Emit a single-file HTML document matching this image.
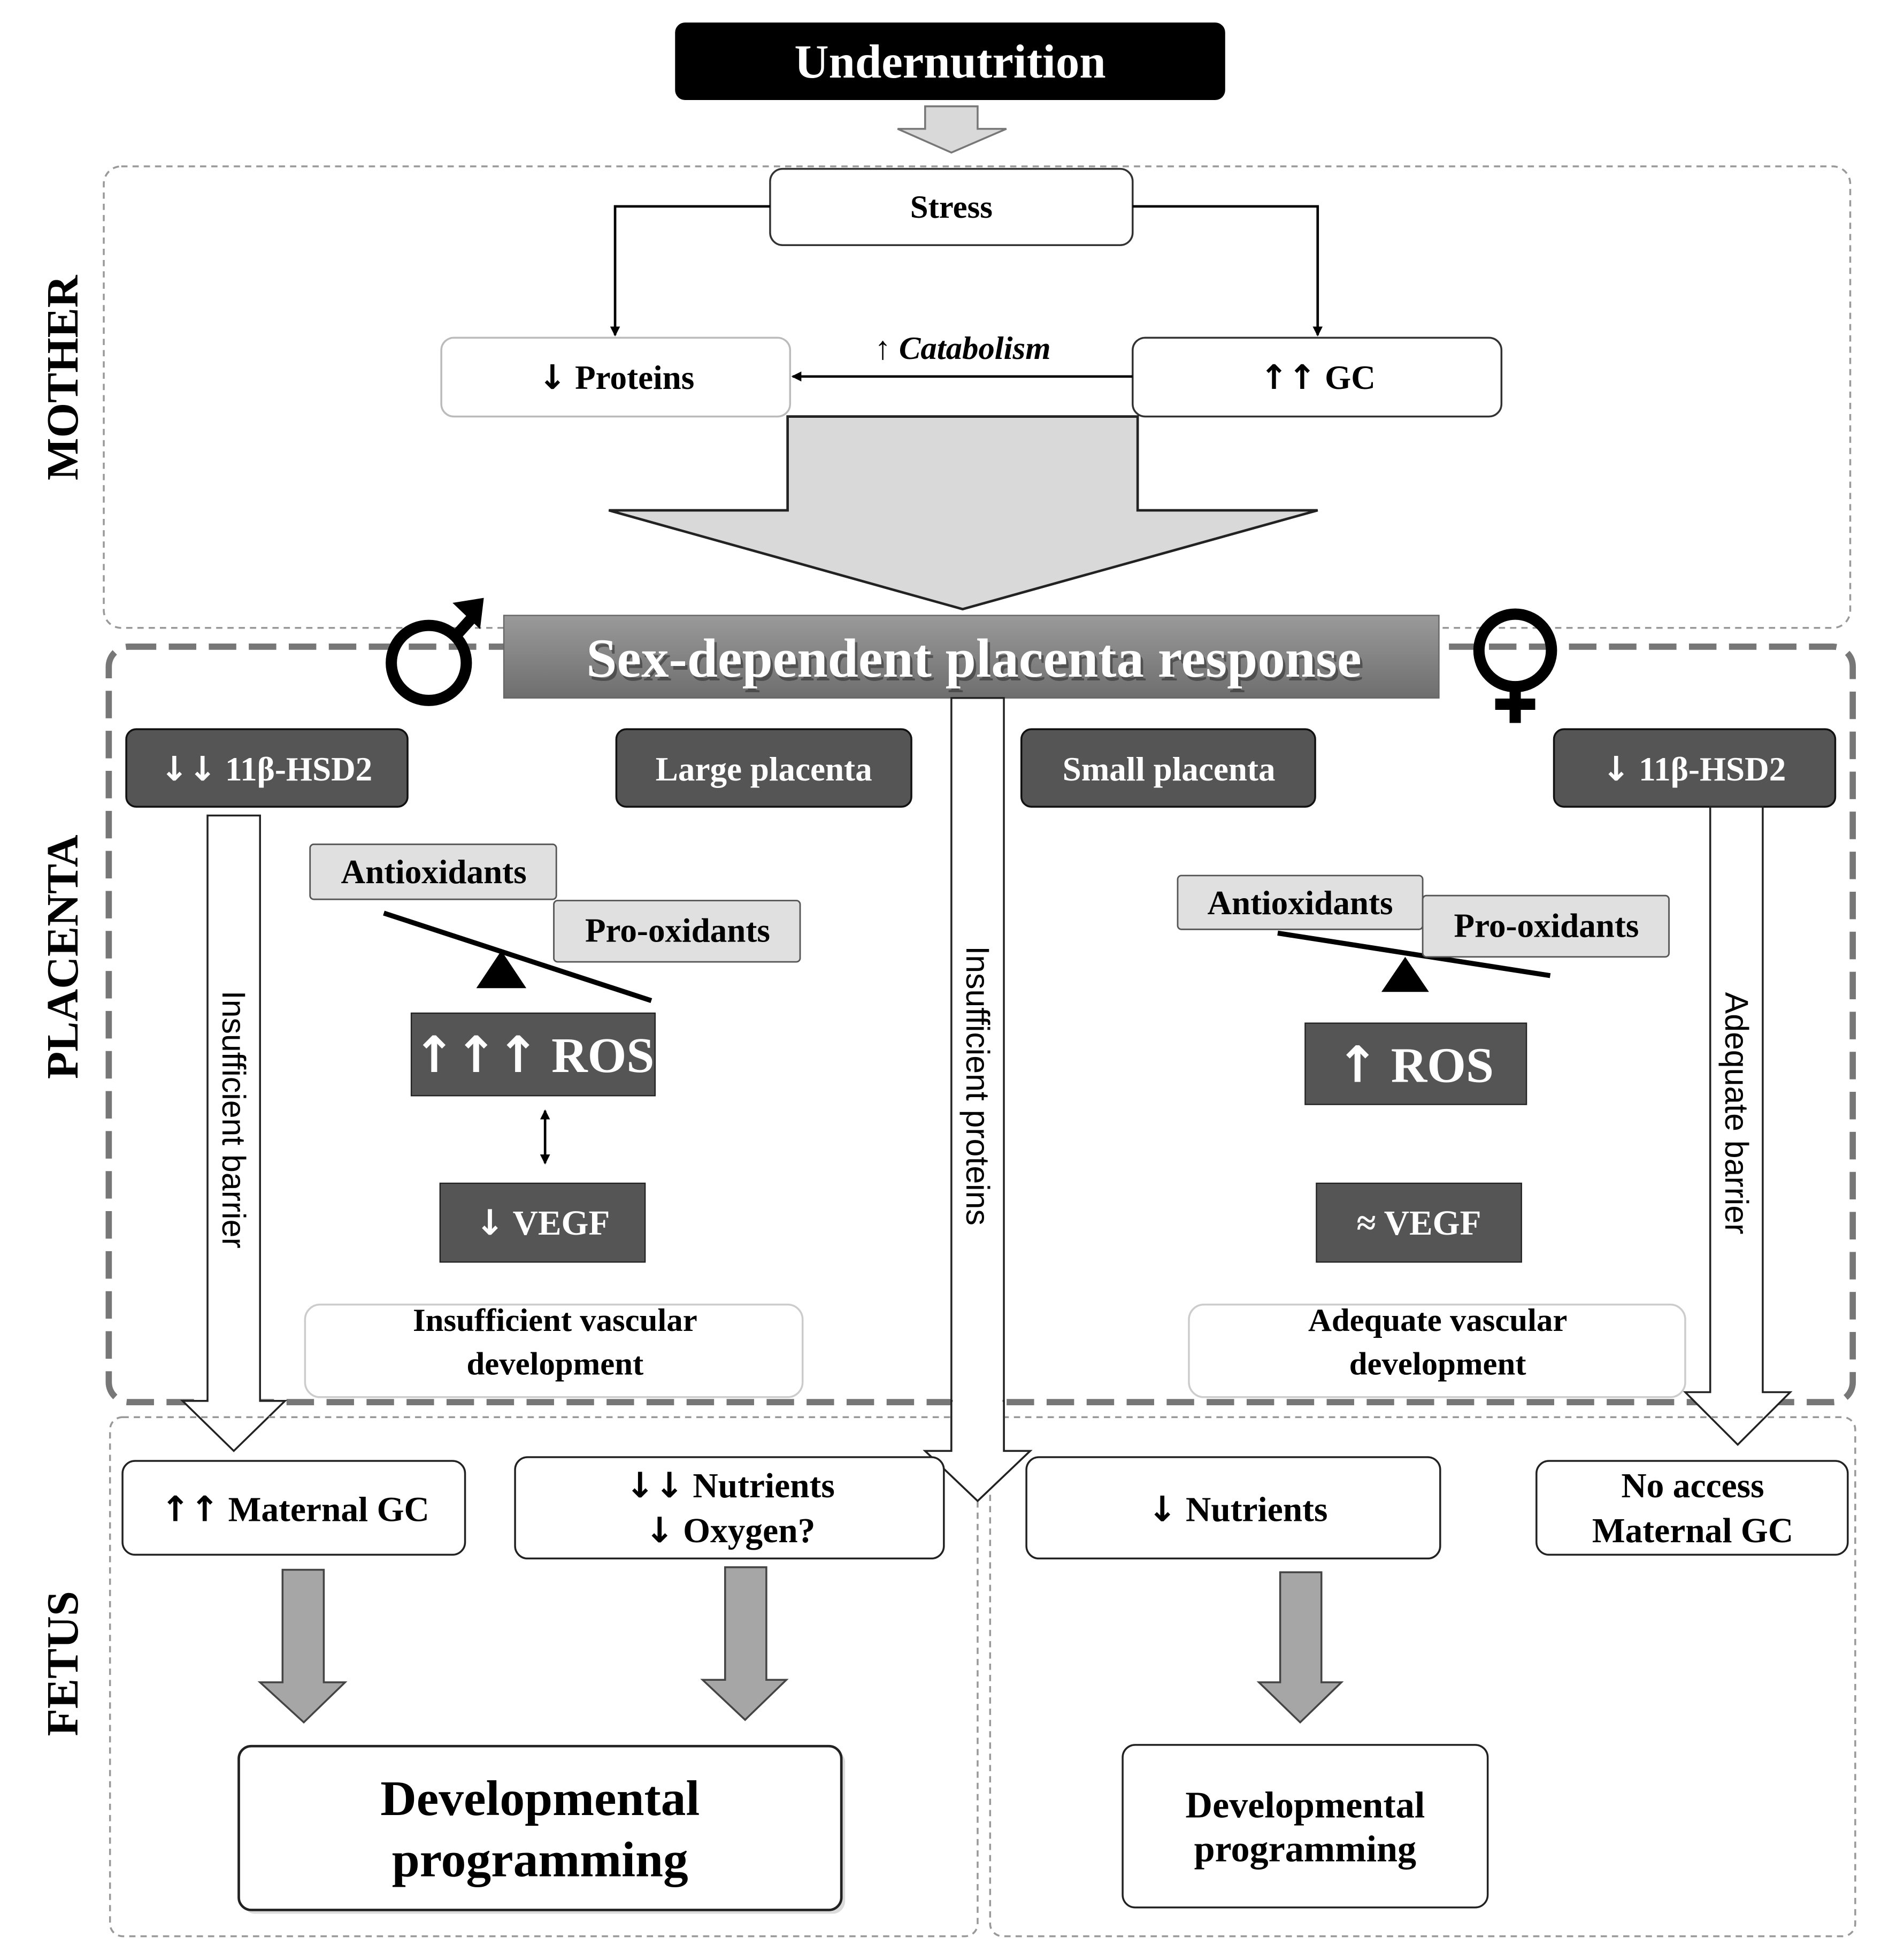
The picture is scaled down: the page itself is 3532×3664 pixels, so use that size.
<!DOCTYPE html>
<html><head><meta charset="utf-8"><style>
html,body{margin:0;padding:0;background:#fff;}
svg{display:block;}
text{font-family:"Liberation Serif",serif;font-weight:bold;}
.sans{font-family:"Liberation Sans",sans-serif;font-weight:normal;}
.ar{font-family:"DejaVu Sans",sans-serif;font-weight:bold;}
</style></head><body>
<svg width="3532" height="3664" viewBox="0 0 1511 1567" preserveAspectRatio="none" xmlns="http://www.w3.org/2000/svg">
<defs>
<marker id="ah" markerWidth="8" markerHeight="8" refX="7" refY="4" orient="auto" markerUnits="userSpaceOnUse"><path d="M0,0 L8,4 L0,8 z" fill="#000"/></marker>
<marker id="ah2" markerWidth="8" markerHeight="8" refX="7" refY="4" orient="auto-start-reverse" markerUnits="userSpaceOnUse"><path d="M0,0 L8,4 L0,8 z" fill="#000"/></marker>
<linearGradient id="tg" x1="0" y1="0" x2="0" y2="1"><stop offset="0" stop-color="#9a9a9a"/><stop offset="1" stop-color="#6e6e6e"/></linearGradient>
</defs>

<rect x="540" y="18" width="440" height="62" rx="8" fill="#000"/>
<text x="760" y="62" font-size="38" fill="#fff" text-anchor="middle">Undernutrition</text>
<polygon points="740,85 782,85 782,103 805,103 761,122 718,103 740,103" fill="#d9d9d9" stroke="#777" stroke-width="1.5"/>

<rect x="83" y="133" width="1397" height="369" rx="14" fill="none" stroke="#999" stroke-width="1.5" stroke-dasharray="5,4"/>
<text transform="translate(62,302) rotate(-90)" font-size="36" text-anchor="middle">MOTHER</text>

<rect x="616" y="135" width="290" height="61" rx="10" fill="#fff" stroke="#333" stroke-width="1.5"/>
<text x="761" y="174" font-size="26" text-anchor="middle">Stress</text>
<polyline points="616,165 492,165 492,268" fill="none" stroke="#000" stroke-width="2" marker-end="url(#ah)"/>
<polyline points="906,165 1054,165 1054,268" fill="none" stroke="#000" stroke-width="2" marker-end="url(#ah)"/>

<rect x="353" y="270" width="279" height="63" rx="10" fill="#fff" stroke="#bbb" stroke-width="1.5"/>
<text x="493" y="311" font-size="27" text-anchor="middle"><tspan class="ar">↓</tspan> Proteins</text>
<rect x="906" y="270" width="295" height="63" rx="10" fill="#fff" stroke="#333" stroke-width="1.5"/>
<text x="1054" y="311" font-size="27" text-anchor="middle"><tspan class="ar">↑↑</tspan> GC</text>
<line x1="906" y1="301" x2="634" y2="301" stroke="#000" stroke-width="2" marker-end="url(#ah)"/>
<text x="770" y="287" font-size="26" text-anchor="middle" font-style="italic" font-weight="normal">↑ Catabolism</text>

<polygon points="630,333 910,333 910,408 1054,408 770,487 487,408 630,408" fill="#d9d9d9" stroke="#222" stroke-width="2"/>

<rect x="87" y="517" width="1395" height="604" rx="16" fill="none" stroke="#777" stroke-width="5" stroke-dasharray="22,10"/>
<text transform="translate(62,765) rotate(-90)" font-size="36" text-anchor="middle">PLACENTA</text>

<circle cx="343" cy="530" r="30" fill="none" stroke="#000" stroke-width="9"/>
<line x1="364" y1="509" x2="382" y2="489" stroke="#000" stroke-width="9"/>
<polygon points="362,482 387,478 384,503" fill="#000"/>
<circle cx="1212" cy="520" r="29" fill="none" stroke="#000" stroke-width="9"/>
<line x1="1212" y1="549" x2="1212" y2="578" stroke="#000" stroke-width="9"/>
<line x1="1196" y1="563" x2="1228" y2="563" stroke="#000" stroke-width="9"/>

<rect x="403" y="492" width="748" height="66" fill="url(#tg)" stroke="#666" stroke-width="1"/>
<text x="779" y="541" font-size="44" fill="#333" text-anchor="middle" opacity="0.6" transform="translate(2,3)">Sex-dependent placenta response</text>
<text x="779" y="541" font-size="44" fill="#fff" text-anchor="middle">Sex-dependent placenta response</text>

<g fill="#555" stroke="#111" stroke-width="1.5">
<rect x="101" y="583" width="225" height="62" rx="8"/>
<rect x="493" y="583" width="236" height="62" rx="8"/>
<rect x="817" y="583" width="235" height="62" rx="8"/>
<rect x="1243" y="583" width="225" height="62" rx="8"/>
</g>
<g fill="#fff" font-size="27" text-anchor="middle">
<text x="213" y="624"><tspan class="ar">↓↓</tspan> 11β-HSD2</text>
<text x="611" y="624">Large placenta</text>
<text x="935" y="624">Small placenta</text>
<text x="1355" y="624"><tspan class="ar">↓</tspan>  11β-HSD2</text>
</g>

<polygon points="166,652 208,652 208,1120 228,1120 187,1160 146,1120 166,1120" fill="#fff" stroke="#222" stroke-width="1.5"/>
<text class="sans" transform="translate(178,895) rotate(90)" font-size="26" text-anchor="middle">Insufficient barrier</text>
<polygon points="761,558 803,558 803,1160 824,1160 782,1200 740,1160 761,1160" fill="#fff" stroke="#222" stroke-width="1.5"/>
<text class="sans" transform="translate(773,868) rotate(90)" font-size="26" text-anchor="middle">Insufficient proteins</text>
<polygon points="1368,645 1410,645 1410,1113 1432,1113 1390,1155 1348,1113 1368,1113" fill="#fff" stroke="#222" stroke-width="1.5"/>
<text class="sans" transform="translate(1380,890) rotate(90)" font-size="26" text-anchor="middle">Adequate barrier</text>

<rect x="248" y="675" width="197" height="44" rx="3" fill="#e0e0e0" stroke="#555" stroke-width="1.2"/>
<text x="347" y="706" font-size="27" text-anchor="middle">Antioxidants</text>
<rect x="443" y="720" width="197" height="49" rx="3" fill="#e0e0e0" stroke="#555" stroke-width="1.2"/>
<text x="542" y="753" font-size="27" text-anchor="middle">Pro-oxidants</text>
<line x1="307" y1="730" x2="521" y2="800" stroke="#000" stroke-width="4"/>
<polygon points="381,790 421,790 401,760" fill="#000"/>
<rect x="329" y="810" width="195" height="66" fill="#555" stroke="#222" stroke-width="1"/>
<text x="427" y="857" font-size="40" fill="#fff" text-anchor="middle"><tspan class="ar" font-weight="normal">↑↑↑</tspan> ROS</text>
<line x1="436" y1="888" x2="436" y2="930" stroke="#000" stroke-width="2" marker-start="url(#ah2)" marker-end="url(#ah2)"/>
<rect x="352" y="946" width="164" height="63" fill="#555" stroke="#222" stroke-width="1"/>
<text x="434" y="987" font-size="28" fill="#fff" text-anchor="middle"><tspan class="ar">↓</tspan> VEGF</text>
<rect x="244" y="1043" width="398" height="74" rx="12" fill="#fff" stroke="#ccc" stroke-width="1.5"/>
<text x="444" y="1064" font-size="26" text-anchor="middle">Insufficient vascular</text>
<text x="444" y="1099" font-size="26" text-anchor="middle">development</text>

<rect x="942" y="700" width="196" height="43" rx="3" fill="#e0e0e0" stroke="#555" stroke-width="1.2"/>
<text x="1040" y="731" font-size="27" text-anchor="middle">Antioxidants</text>
<line x1="1022" y1="746" x2="1240" y2="780" stroke="#000" stroke-width="4"/>
<rect x="1138" y="716" width="197" height="49" rx="3" fill="#e0e0e0" stroke="#555" stroke-width="1.2"/>
<text x="1237" y="749" font-size="27" text-anchor="middle">Pro-oxidants</text>
<polygon points="1105,793 1143,793 1124,765" fill="#000"/>
<rect x="1044" y="818" width="177" height="65" fill="#555" stroke="#222" stroke-width="1"/>
<text x="1132" y="865" font-size="40" fill="#fff" text-anchor="middle"><tspan class="ar" font-weight="normal">↑</tspan> ROS</text>
<rect x="1053" y="946" width="164" height="63" fill="#555" stroke="#222" stroke-width="1"/>
<text x="1135" y="987" font-size="28" fill="#fff" text-anchor="middle">≈ VEGF</text>
<rect x="951" y="1043" width="397" height="74" rx="12" fill="#fff" stroke="#ccc" stroke-width="1.5"/>
<text x="1150" y="1064" font-size="26" text-anchor="middle">Adequate vascular</text>
<text x="1150" y="1099" font-size="26" text-anchor="middle">development</text>

<rect x="88" y="1133" width="694" height="415" rx="10" fill="none" stroke="#999" stroke-width="1.5" stroke-dasharray="5,4"/>
<rect x="792" y="1133" width="692" height="415" rx="10" fill="none" stroke="#999" stroke-width="1.5" stroke-dasharray="5,4"/>
<text transform="translate(62,1330) rotate(-90)" font-size="36" text-anchor="middle">FETUS</text>
<polygon points="761,1120 803,1120 803,1160 824,1160 782,1200 740,1160 761,1160" fill="#fff" stroke="#222" stroke-width="1.5"/>
<rect x="762" y="1119" width="40" height="3" fill="#fff"/>

<g fill="#fff" stroke="#222" stroke-width="1.5">
<rect x="98" y="1168" width="274" height="75" rx="10"/>
<rect x="412" y="1165" width="343" height="81" rx="10"/>
<rect x="821" y="1165" width="331" height="81" rx="10"/>
<rect x="1229" y="1168" width="249" height="75" rx="10"/>
</g>
<g font-size="28" text-anchor="middle">
<text x="236" y="1216"><tspan class="ar">↑↑</tspan> Maternal GC</text>
<text x="584" y="1197"><tspan class="ar">↓↓</tspan> Nutrients</text>
<text x="584" y="1233"><tspan class="ar">↓</tspan> Oxygen?</text>
<text x="990" y="1216"><tspan class="ar">↓</tspan> Nutrients</text>
<text x="1354" y="1197">No access</text>
<text x="1354" y="1233">Maternal GC</text>
</g>

<g fill="#a6a6a6" stroke="#444" stroke-width="1.5">
<polygon points="226,1255 259,1255 259,1345 276,1345 243,1377 208,1345 226,1345"/>
<polygon points="580,1253 613,1253 613,1343 629,1343 596,1375 562,1343 580,1343"/>
<polygon points="1024,1257 1057,1257 1057,1345 1073,1345 1040,1377 1007,1345 1024,1345"/>
</g>

<rect x="194" y="1399" width="482" height="131" rx="10" fill="#ccc" opacity="0.7"/>
<rect x="191" y="1396" width="482" height="131" rx="10" fill="#fff" stroke="#222" stroke-width="2"/>
<text x="432" y="1451" font-size="40" text-anchor="middle">Developmental</text>
<text x="432" y="1500" font-size="40" text-anchor="middle">programming</text>
<rect x="898" y="1395" width="292" height="130" rx="10" fill="#fff" stroke="#222" stroke-width="1.5"/>
<text x="1044" y="1453" font-size="30" text-anchor="middle">Developmental</text>
<text x="1044" y="1488" font-size="30" text-anchor="middle">programming</text>
</svg>
</body></html>
